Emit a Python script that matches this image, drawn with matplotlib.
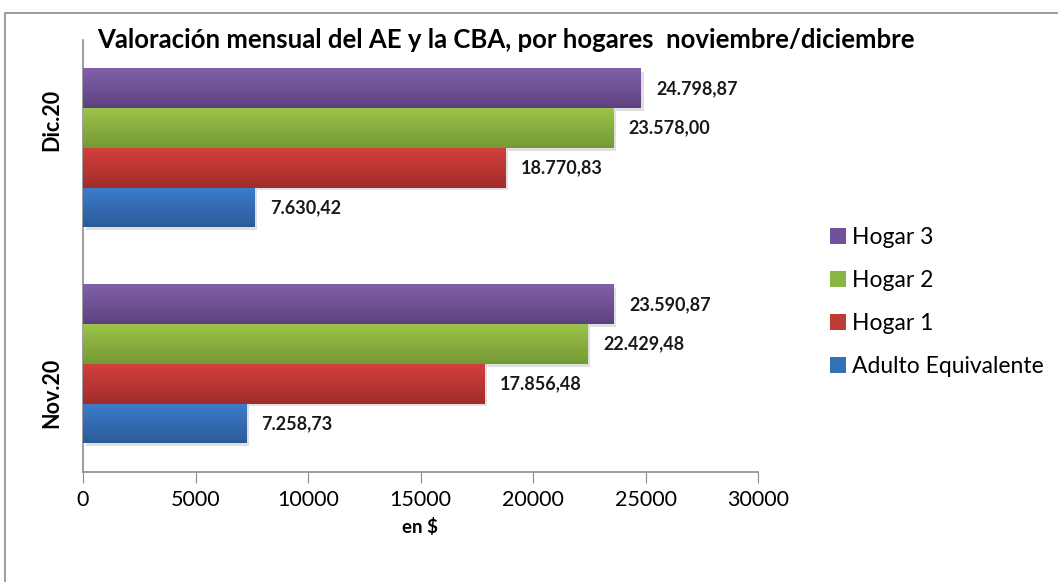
import matplotlib.pyplot as plt
import numpy as np
from matplotlib.colors import LinearSegmentedColormap
from matplotlib.patches import Rectangle

# datos
periodos = ['Nov.20', 'Dic.20']
series = ['Adulto Equivalente', 'Hogar 1', 'Hogar 2', 'Hogar 3']
adulto_eq = [7258.73, 7630.42]
hogar1 = [17856.48, 18770.83]
hogar2 = [22429.48, 23578.00]
hogar3 = [23590.87, 24798.87]
valores = [adulto_eq, hogar1, hogar2, hogar3]

# colores (arriba claro, abajo oscuro)
top_colors = ['#3d7ccb', '#d2403c', '#9cc34a', '#8160aa']
bot_colors = ['#2b5c99', '#a12c2a', '#749a35', '#5d417f']
mid_colors = ['#3470b8', '#c03a37', '#8ab443', '#70529a']

plt.rcParams['font.family'] = ['Lato', 'DejaVu Sans']

fig = plt.figure(figsize=(10.58, 5.82), dpi=100)
ax = fig.add_axes([83/1058, 1-472/582, (758-83)/1058, (472-40)/582])

# borde del grafico
fig.patches.append(Rectangle((5/1058, -0.05), 1.1, 1-13/582+0.05,
                             transform=fig.transFigure, fill=False,
                             edgecolor='#8c8c8c', linewidth=1.2))

h = 0.183
y = np.arange(len(periodos))
offsets = [-1.5*h, -0.5*h, 0.5*h, 1.5*h]

handles = []
for i, (nombre, vals) in enumerate(zip(series, valores)):
    bars = ax.barh(y + offsets[i], vals, height=h, color=mid_colors[i],
                   label=nombre, zorder=2)
    handles.append(bars)
    cmap = LinearSegmentedColormap.from_list('g%d' % i, [bot_colors[i], top_colors[i]])
    grad = np.linspace(0, 1, 64).reshape(-1, 1)
    for b, v in zip(bars, vals):
        x0, y0 = b.get_x(), b.get_y()
        w, hh = b.get_width(), b.get_height()
        # sombra
        ax.add_patch(Rectangle((x0 + 120, y0 - 0.012), w, hh, color='#000000',
                               alpha=0.12, zorder=1, linewidth=0))
        ax.imshow(grad, extent=(x0, x0 + w, y0, y0 + hh), cmap=cmap,
                  aspect='auto', origin='lower', zorder=3, interpolation='bicubic')
        lbl = '{:,.2f}'.format(v).replace(',', 'X').replace('.', ',').replace('X', '.')
        ax.text(v + 680, y0 + hh/2, lbl, ha='left', va='center',
                fontsize=13, fontweight='bold', color='#1a1a1a', zorder=4)

ax.set_xlim(0, 30000)
ax.set_ylim(-0.5, 1.5)
ax.set_xticks(range(0, 30001, 5000))
ax.set_xticklabels([str(t) for t in range(0, 30001, 5000)], fontsize=15.5)
ax.set_yticks([])
ax.tick_params(axis='x', length=8, color='#8c8c8c', pad=5)
for s in ['top', 'right']:
    ax.spines[s].set_visible(False)
for s in ['left', 'bottom']:
    ax.spines[s].set_color('#8c8c8c')
    ax.spines[s].set_linewidth(1.2)

# etiquetas de categoria
pos_cat = [1 - 393/582, 1 - 120/582]
for p, etiqueta in zip(pos_cat, periodos):
    fig.text(52/1058, p, etiqueta, rotation=90, ha='center', va='center',
             fontsize=15.5, fontweight='bold')

ax.set_xlabel('en $', fontsize=13.5, fontweight='bold', labelpad=6)
fig.text(506/1058, 1-40/582, 'Valoración mensual del AE y la CBA, por hogares  noviembre/diciembre',
         ha='center', va='center', fontsize=18.5, fontweight='bold')

leg = ax.legend(handles=handles[::-1], labels=series[::-1], loc='center left',
                bbox_to_anchor=(830/1058, 1 - 302/582), bbox_transform=fig.transFigure,
                frameon=False, fontsize=16.5,
                handlelength=0.7, handleheight=0.7, handletextpad=0.25,
                labelspacing=0.95, borderpad=0, borderaxespad=0)

fig.savefig('out.png', dpi=100)
